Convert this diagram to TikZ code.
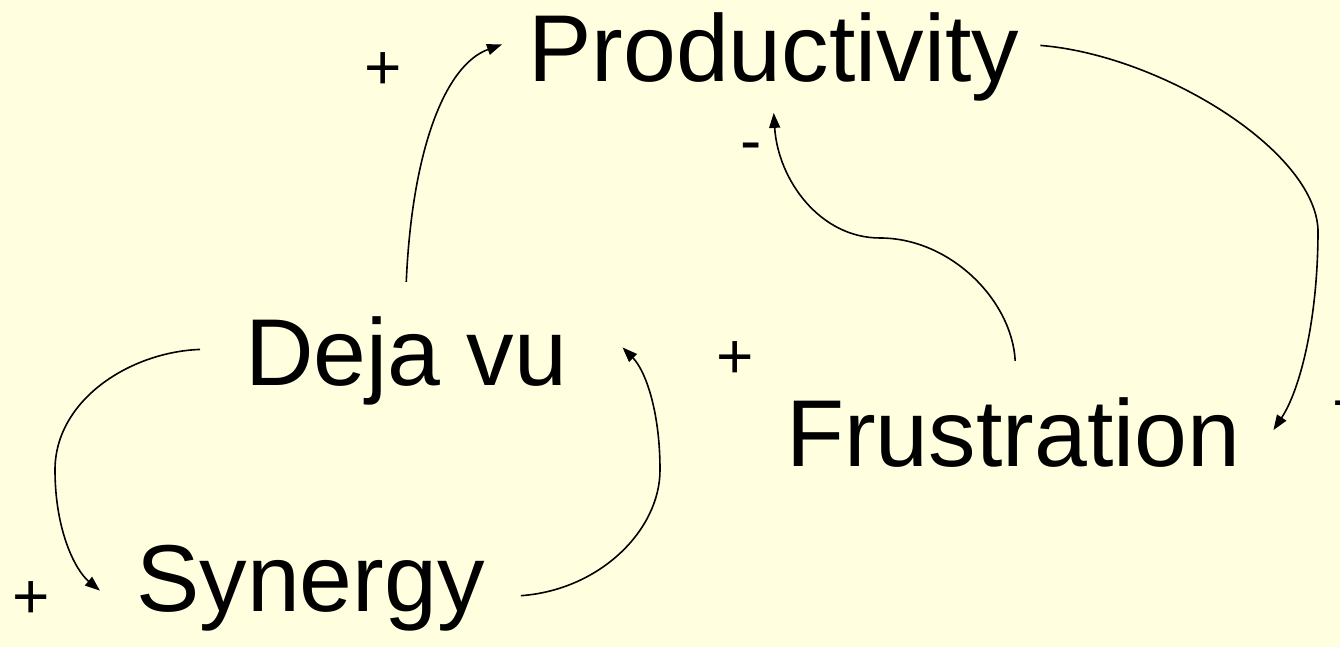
\documentclass[tikz,border=0pt]{standalone}
\usepackage{fontspec}
\setmainfont{Liberation Sans}
\usetikzlibrary{arrows.meta, calc}
\definecolor{paper}{RGB}{255,255,224}

\begin{document}
\begin{tikzpicture}[x=1pt, y=1pt,
    factor/.style={anchor=base west, inner sep=0pt, font=\fontsize{95}{114}\selectfont},
    sign/.style={inner sep=0pt, font=\fontsize{64}{76}\selectfont},
    link/.style={-{Triangle[length=15pt, width=11pt]}, line width=1.6pt}]
    \fill[paper] (0,0) rectangle (1340,647);
    \useasboundingbox (0,0) rectangle (1340,647);
    \node[factor] (prod) at (528,565) {Productivity};
    \node[factor] (deja) at (245,261) {Deja vu};
    \node[factor] (frus) at (786,180) {Frustration};
    \node[factor] (syn) at (136,35) {Synergy};
    % polarity signs
    \node[sign] (s1) at (383,576) {+};
    \node[sign] (s2) at (751,494) {-};
    \node[sign] (s3) at (735,287) {+};
    \node[sign] (s4) at (1351,241) {+};
    \node[sign] (s5) at (31,47) {+};
    % links
    \draw[link] ($(deja.north)+(0,35)$) .. controls (412,497) and (445,582) .. ($(prod.west)+(-26,13)$);
    \draw[link] ($(frus.north)+(2,37)$) .. controls (1012,347) and (950,409) .. (880,409)
        .. controls (820,409) and (778,467) .. ($(prod.south)+(0,-11)$);
    \draw[link] ($(prod.east)+(21,12)$) .. controls (1160,592) and (1315,497) .. (1318,417)
        .. controls (1318,327) and (1300,257) .. ($(frus.east)+(33,3)$);
    \draw[link] ($(deja.west)+(-45,12)$) .. controls (130,295) and (55,247) .. (55,177)
        .. controls (55,117) and (75,77) .. ($(syn.west)+(-36,-2)$);
    \draw[link] ($(syn.east)+(36,-7)$) .. controls (600,57) and (660,117) .. (660,177)
        .. controls (660,237) and (645,277) .. ($(deja.east)+(55,14)$);
\end{tikzpicture}
\end{document}
